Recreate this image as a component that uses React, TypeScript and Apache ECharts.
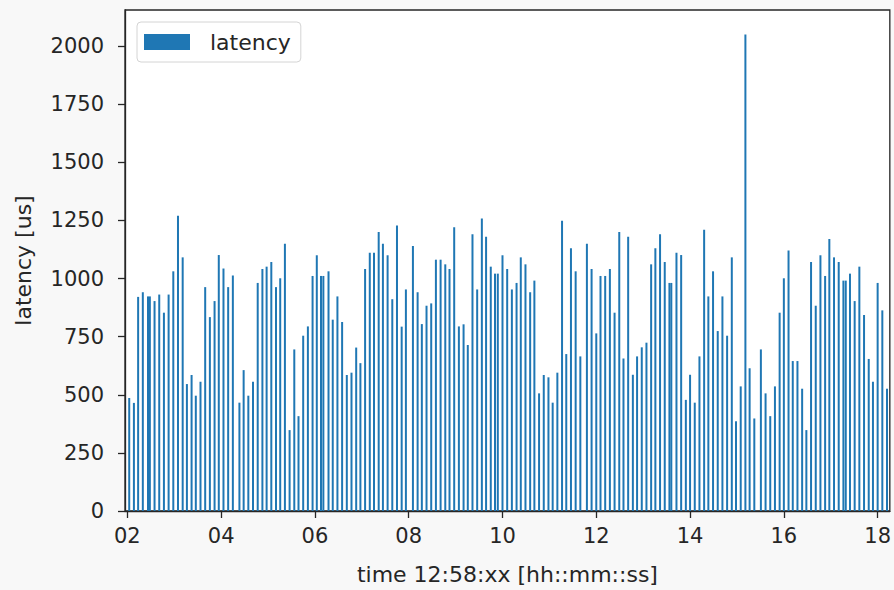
import React, { useEffect, useRef } from "react";
import * as echarts from "echarts";

// Time (seconds within 12:58:xx) of each measurement
const times: number[] = [
  2.04, 2.14, 2.23, 2.33, 2.44, 2.48, 2.58, 2.68, 2.78, 2.88, 2.98, 3.08, 3.18, 3.27, 3.37, 3.46, 3.56, 3.66, 3.76, 3.86, 3.95, 4.05, 4.15, 4.25, 4.39, 4.48, 4.58,
  4.68, 4.78, 4.88, 4.97, 5.07, 5.17, 5.26, 5.36, 5.46, 5.56, 5.65, 5.75, 5.85, 5.95, 6.04, 6.13, 6.18, 6.29, 6.38, 6.48, 6.58, 6.68, 6.78, 6.88, 6.97, 7.07, 7.17,
  7.26, 7.36, 7.45, 7.55, 7.65, 7.75, 7.85, 7.94, 8.09, 8.19, 8.28, 8.38, 8.48, 8.58, 8.68, 8.78, 8.87, 8.97, 9.07, 9.17, 9.26, 9.36, 9.46, 9.56, 9.65, 9.75, 9.84, 9.9,
  10.0, 10.1, 10.2, 10.3, 10.39, 10.49, 10.59, 10.68, 10.78, 10.88, 10.98, 11.07, 11.17, 11.27, 11.36, 11.46, 11.56, 11.66, 11.8, 11.9, 12.0, 12.09, 12.19, 12.29, 12.39, 12.49,
  12.58, 12.68, 12.78, 12.87, 12.97, 13.07, 13.17, 13.26, 13.36, 13.46, 13.56, 13.6, 13.71, 13.81, 13.91, 14.0, 14.1, 14.2, 14.3, 14.39, 14.49, 14.59, 14.69, 14.79, 14.89, 14.98, 15.08, 15.18,
  15.27, 15.37, 15.51, 15.61, 15.71, 15.81, 15.91, 16.0, 16.1, 16.19, 16.29, 16.39, 16.48, 16.58, 16.68, 16.78, 16.88, 16.97, 17.07, 17.17, 17.27, 17.32, 17.41, 17.51, 17.61, 17.71, 17.81, 17.9, 18.0, 18.1, 18.2,
];

// Latency in microseconds
const latency: number[] = [
  486, 465, 921, 941, 923, 923, 903, 931, 853, 931, 1031, 1270, 1091, 546, 585, 496, 556, 963, 834, 903, 1101, 1043, 963, 1013, 466, 606, 496,
  556, 981, 1041, 1051, 1071, 963, 1001, 1150, 348, 695, 408, 754, 794, 1011, 1100, 1011, 1011, 1031, 823, 923, 813, 585, 595, 703, 636, 1041, 1111,
  1111, 1200, 1150, 1100, 911, 1228, 793, 953, 1140, 941, 804, 883, 893, 1081, 1081, 1061, 1041, 1220, 794, 803, 714, 1190, 953, 1258, 1180, 1051, 1021, 1021,
  1100, 1041, 953, 981, 1091, 1061, 941, 991, 506, 585, 575, 466, 595, 1248, 675, 1130, 1031, 665, 1150, 1041, 764, 1011, 1011, 1041, 853, 1200,
  656, 1180, 586, 665, 704, 724, 1061, 1130, 1190, 1071, 981, 981, 1111, 1101, 478, 586, 466, 665, 1210, 923, 1031, 774, 923, 754, 1091, 386, 536, 2050,
  614, 398, 695, 506, 408, 536, 853, 1001, 1121, 645, 645, 526, 348, 1071, 883, 1100, 1011, 1170, 1091, 1071, 991, 991, 1021, 903, 1051, 843, 654, 556, 981, 863, 526,
];

const xTicks: number[] = [2, 4, 6, 8, 10, 12, 14, 16, 18];
const yTicks: number[] = [0, 250, 500, 750, 1000, 1250, 1500, 1750, 2000];

const seriesName = "latency";
const xName = "time 12:58:xx [hh::mm::ss]";
const yName = "latency [us]";

const INK = "#262626";
const FONT = "DejaVu Sans";

export default function App() {
  const ref = useRef<HTMLDivElement>(null);

  useEffect(() => {
    if (!ref.current) return;
    const chart = echarts.init(ref.current, null, { renderer: "svg" });
    const data = times.map((t, i) => [t, latency[i]]);
    chart.setOption({
      animation: false,
      backgroundColor: "#f8f8f8",
      textStyle: { fontFamily: FONT, color: INK },
      grid: {
        left: 125,
        right: 1.3,
        top: 10,
        bottom: 76.5,
        show: true,
        backgroundColor: "#ffffff",
        borderColor: INK,
        borderWidth: 1.3,
      },
      legend: {
        show: true,
        left: 137,
        top: 22,
        orient: "horizontal",
        icon: "rect",
        itemWidth: 46,
        itemHeight: 16,
        padding: [9, 10, 9, 7],
        backgroundColor: "#ffffff",
        borderColor: "#d4d4d4",
        borderWidth: 1,
        borderRadius: 4,
        textStyle: {
          fontFamily: FONT,
          fontSize: 22,
          color: INK,
          padding: [0, 0, 0, 15],
        },
        data: [seriesName],
      },
      xAxis: {
        type: "value",
        min: 1.95,
        max: 18.26,
        name: xName,
        nameLocation: "middle",
        nameGap: 52,
        nameTextStyle: { fontFamily: FONT, fontSize: 22, color: INK },
        axisLine: { show: true, onZero: false, lineStyle: { color: INK, width: 1.3 } },
        axisTick: {
          show: true,
          inside: false,
          length: 7,
          lineStyle: { color: INK, width: 1.3 },
          customValues: xTicks,
        },
        axisLabel: {
          customValues: xTicks,
          formatter: (v: number) => String(Math.round(v)).padStart(2, "0"),
          fontFamily: FONT,
          fontSize: 21,
          color: INK,
          margin: 14,
        },
        splitLine: { show: false },
      },
      yAxis: {
        type: "value",
        min: 0,
        max: 2155,
        name: yName,
        nameLocation: "middle",
        nameRotate: 90,
        nameGap: 91,
        nameTextStyle: { fontFamily: FONT, fontSize: 22, color: INK },
        axisLine: { show: true, lineStyle: { color: INK, width: 1.3 } },
        axisTick: {
          show: true,
          inside: false,
          length: 7,
          lineStyle: { color: INK, width: 1.3 },
          customValues: yTicks,
        },
        axisLabel: {
          customValues: yTicks,
          formatter: (v: number) => String(Math.round(v)),
          fontFamily: FONT,
          fontSize: 21,
          color: INK,
          margin: 21,
          padding: [4, 0, 0, 0],
        },
        splitLine: { show: false },
      },
      series: [
        {
          type: "bar",
          name: seriesName,
          data,
          barWidth: 2,
          itemStyle: { color: "#1f77b4" },
          emphasis: { disabled: true },
        },
      ],
    });
    return () => chart.dispose();
  }, []);

  return (
    <div
      ref={ref}
      style={{ position: "fixed", left: 0, top: 0, width: 894, height: 590 }}
    />
  );
}
